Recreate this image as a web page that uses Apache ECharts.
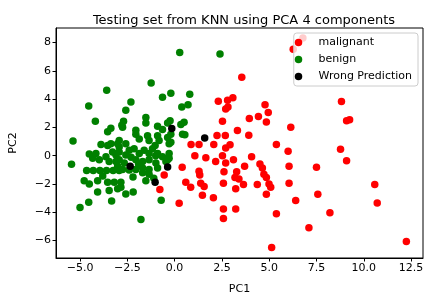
<!DOCTYPE html>
<html>
<head>
<meta charset="utf-8">
<script src="https://cdn.jsdelivr.net/npm/echarts@6/dist/echarts.min.js"></script>
<style>
  html, body { margin: 0; padding: 0; background: #fff; }
  #chart { width: 431px; height: 300px; }
</style>
</head>
<body>
<div id="chart"></div>
<script>
// 数据：PC1 / PC2 坐标
var malignant = [
  [-0.55, -1.36], [-0.78, -2.38], [0.24, -3.36], [3.55, 5.55], [2.31, 3.86],
  [2.8, 3.93], [3.08, 4.1], [2.7, 3.31], [2.82, 3.45], [4.78, 3.61],
  [4.95, 3.06], [3.95, 2.63], [4.43, 2.77], [4.85, 2.38], [2.53, 2.43],
  [3.32, 1.79], [3.92, 1.45], [2.68, 1.43], [2.24, 1.43], [6.14, 2.02],
  [5.38, 0.8], [0.87, 0.79], [1.29, 0.79], [2.07, 0.79], [6.78, 8.33],
  [6.27, 7.53], [8.82, 3.84], [9.09, 2.48], [9.25, 2.54], [8.77, 0.46],
  [9.09, -0.36], [7.5, -0.82], [6.05, -0.75], [6.05, -1.95], [10.58, -2.04],
  [7.57, -2.72], [6.4, -3.17], [10.71, -3.35], [8.21, -4.03], [7.1, -5.1],
  [12.25, -6.07], [6.0, 0.32], [2.7, 0.54], [2.93, 0.78], [1.07, 0.0],
  [1.65, -0.14], [2.53, 0.0], [2.17, -0.41], [2.7, -0.52], [3.11, -0.29],
  [4.07, -0.07], [4.51, -0.59], [4.64, -0.86], [0.4, -0.82], [1.29, -1.09],
  [1.33, -1.36], [2.61, -1.13], [3.28, -1.13], [3.7, -0.75], [3.19, -1.54],
  [3.4, -1.65], [4.72, -1.31], [4.85, -1.54], [0.59, -1.88], [1.38, -1.95],
  [1.56, -2.18], [0.85, -2.22], [2.58, -1.95], [3.64, -2.04], [4.37, -2.04],
  [4.99, -1.99], [5.08, -2.22], [3.23, -2.33], [1.47, -2.79], [2.05, -2.97],
  [4.85, -2.72], [2.58, -3.76], [3.23, -3.76], [2.58, -4.44], [5.38, -4.1],
  [5.13, -6.48]
];

var benign = [
  [0.27, 7.3], [2.4, 7.19], [-3.59, 4.63], [-1.24, 5.15], [-4.54, 3.52],
  [-2.31, 3.79], [-0.2, 4.42], [-0.64, 4.13], [0.8, 4.35], [0.38, 3.45],
  [0.71, 3.61], [-2.58, 3.22], [-4.19, 2.43], [-1.52, 2.7], [-2.7, 2.43],
  [-2.79, 2.16], [-3.37, 1.95], [-3.54, 1.7], [-2.05, 1.8], [-0.9, 2.09],
  [-0.37, 2.31], [-0.24, 2.48], [0.5, 2.36], [0.54, 1.48], [-5.37, 1.05],
  [-5.45, -0.6], [-2.75, 2.02], [-0.64, 1.86], [0.33, 2.2], [0.42, 1.52],
  [-2.05, 1.52], [-1.87, 1.18], [-1.43, 1.41], [-1.35, 1.07], [-0.9, 1.41],
  [-0.82, 1.07], [-1.03, 0.73], [-0.37, 1.29], [-0.29, 0.84], [-2.93, 1.07],
  [-2.93, 0.61], [-2.58, 0.84], [-2.4, 0.39], [-2.58, 0.05], [-2.14, 0.5],
  [-1.87, 0.16], [-1.61, 0.39], [-1.35, 0.16], [-1.17, 0.5], [-0.9, 0.16],
  [-0.64, -0.07], [-0.37, -0.29], [-2.93, -0.29], [-2.66, -0.52], [-3.01, -0.75],
  [-2.05, -0.29], [-1.69, -0.41], [-1.35, -0.29], [-0.99, -0.52], [-1.69, -0.86],
  [-1.35, -0.97], [-0.9, -0.86], [-2.75, -0.97], [-2.05, -0.97], [-3.89, 0.8],
  [-3.37, 0.84], [-3.01, 0.84], [-3.54, 0.73], [-4.51, 0.12], [-4.33, -0.18],
  [-4.16, 0.16], [-3.98, -0.29], [-3.63, -0.07], [-3.46, -0.41], [-3.28, 0.27],
  [-3.1, 0.05], [-2.93, 0.27], [-3.1, -0.41], [-4.65, -1.05], [-4.3, -1.05],
  [-3.95, -1.05], [-3.6, -1.05], [-3.25, -1.05], [-2.93, -1.05], [-4.78, -1.77],
  [-4.51, -1.99], [-4.07, -1.77], [-4.07, -2.56], [-3.8, -1.43], [-3.54, -1.88],
  [-3.46, -2.45], [-3.19, -1.88], [-3.01, -2.33], [-5.0, -3.66], [-4.54, -3.29],
  [-3.33, -3.2], [-2.84, -1.88], [-2.84, -2.22], [-2.58, -2.7], [-2.19, -2.56],
  [-1.52, -1.77], [-1.35, -1.31], [-1.1, -1.6], [-0.71, -3.15], [-1.78, -4.5],
  [-2.4, -1.0], [-1.69, -1.2], [-0.29, 0.16], [-0.29, -0.18], [-0.46, -0.41],
  [-0.2, 1.52], [-0.2, 0.95], [-1.52, 2.31], [-2.2, -1.5], [-1.9, -0.6],
  [-2.3, -0.1], [-1.0, 0.0]
];

var wrong = [
  [-0.15, 1.93], [-2.35, -0.75], [-0.37, -0.79], [-1.03, -1.88], [1.59, 1.25]
];

var xTicks = [-5, -2.5, 0, 2.5, 5, 7.5, 10, 12.5];
var yTicks = [-6, -4, -2, 0, 2, 4, 6, 8];

var font = 'DejaVu Sans';

var option = {
  animation: false,
  title: {
    text: 'Testing set from KNN using PCA 4 components',
    left: 239,
    top: 9,
    textAlign: 'center',
    textStyle: { fontFamily: font, fontSize: 13, fontWeight: 'normal', color: '#000' }
  },
  legend: {
    orient: 'vertical',
    right: 13,
    top: 33,
    padding: [3, 6, 3, 1],
    itemGap: 4,
    itemWidth: 30,
    itemHeight: 7.5,
    icon: 'circle',
    backgroundColor: 'rgba(255,255,255,0.8)',
    borderColor: '#cccccc',
    borderWidth: 1,
    borderRadius: 3,
    textStyle: { fontFamily: font, fontSize: 11, color: '#000', lineHeight: 13 },
    data: ['malignant', 'benign', 'Wrong Prediction']
  },
  grid: {
    left: 55, right: 8, top: 28, bottom: 33,
    show: true, borderColor: '#000', borderWidth: 1
  },
  xAxis: {
    type: 'value',
    min: -6.27, max: 13.13,
    name: 'PC1', nameLocation: 'middle', nameGap: 26,
    nameTextStyle: { fontFamily: font, fontSize: 11, color: '#000' },
    axisLine: { onZero: false, lineStyle: { color: '#000' } },
    axisTick: { show: true, length: 3.5, lineStyle: { color: '#000' }, customValues: xTicks },
    axisLabel: {
      fontFamily: font, fontSize: 11, color: '#000', margin: 5,
      customValues: xTicks,
      formatter: function (v) { return v.toFixed(1).replace('-', '\u2212'); }
    },
    splitLine: { show: false }
  },
  yAxis: {
    type: 'value',
    min: -7.23, max: 9.03,
    name: 'PC2', nameLocation: 'middle', nameGap: 37,
    nameTextStyle: { fontFamily: font, fontSize: 11, color: '#000' },
    axisLine: { show: true, onZero: false, lineStyle: { color: '#000' } },
    axisTick: { show: true, length: 3.5, lineStyle: { color: '#000' }, customValues: yTicks },
    axisLabel: {
      fontFamily: font, fontSize: 11, color: '#000', margin: 5,
      customValues: yTicks,
      formatter: function (v) { return String(v).replace('-', '\u2212'); }
    },
    splitLine: { show: false }
  },
  series: [
    { name: 'malignant', type: 'scatter', data: malignant, symbolSize: 7.5,
      itemStyle: { color: '#ff0000', opacity: 1 }, silent: true },
    { name: 'benign', type: 'scatter', data: benign, symbolSize: 7.5,
      itemStyle: { color: '#008000', opacity: 1 }, silent: true },
    { name: 'Wrong Prediction', type: 'scatter', data: wrong, symbolSize: 7.5,
      itemStyle: { color: '#000000', opacity: 1 }, silent: true }
  ]
};

var myChart = echarts.init(document.getElementById('chart'));
myChart.setOption(option);
</script>
</body>
</html>
